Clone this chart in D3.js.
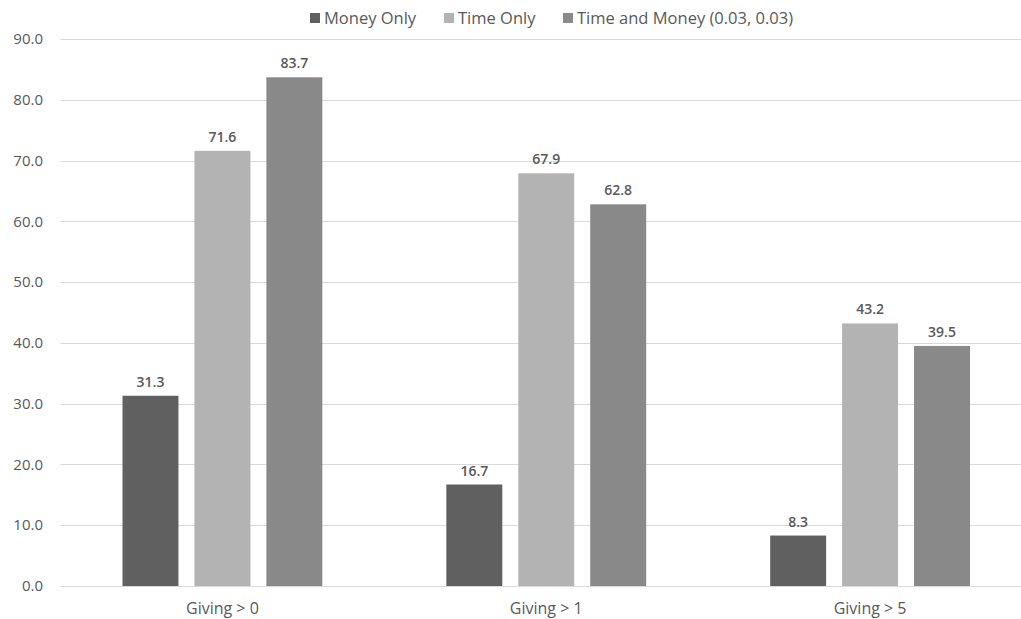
<!DOCTYPE html>
<html>
<head>
<script src="https://d3js.org/d3.v7.min.js"></script>
<style>
  html, body { margin: 0; padding: 0; background: #fff; }
  svg { display: block; font-family: "Open Sans", "Noto Sans", sans-serif; }
</style>
</head>
<body>
<div id="chart"></div>
<script>
// chart data
var categories = ["Giving > 0", "Giving > 1", "Giving > 5"];
var seriesNames = ["Money Only", "Time Only", "Time and Money (0.03, 0.03)"];
var moneyOnly = [31.3, 16.7, 8.3];
var timeOnly = [71.6, 67.9, 43.2];
var timeAndMoney = [83.7, 62.8, 39.5];
var yTicks = [0, 10, 20, 30, 40, 50, 60, 70, 80, 90];
var colors = ["#606060", "#b3b3b3", "#898989"];

var seriesValues = [moneyOnly, timeOnly, timeAndMoney];

var width = 1021, height = 619;
var plot = {left: 60.5, right: 1032, top: 39, bottom: 586};

var svg = d3.select("#chart").append("svg")
    .attr("width", width)
    .attr("height", height);

var y = d3.scaleLinear().domain([0, 90]).range([plot.bottom, plot.top]);

var x0 = d3.scaleBand().domain(categories).range([plot.left, plot.right]);
var x1 = d3.scaleBand().domain(seriesNames)
    .range([62, x0.bandwidth() - 62])
    .paddingInner(16 / 72).paddingOuter(0);

// gridlines
svg.append("g").selectAll("line")
    .data(yTicks)
    .enter().append("line")
    .attr("x1", plot.left)
    .attr("x2", plot.right)
    .attr("y1", function(d) { return Math.round(y(d)) + 0.5; })
    .attr("y2", function(d) { return Math.round(y(d)) + 0.5; })
    .attr("stroke", "#d9d9d9")
    .attr("stroke-width", 1);

// y tick labels
svg.append("g").selectAll("text")
    .data(yTicks)
    .enter().append("text")
    .attr("x", 43)
    .attr("y", function(d) { return y(d); })
    .attr("dy", "0.35em")
    .attr("text-anchor", "end")
    .attr("font-size", 15)
    .attr("fill", "#595959")
    .text(function(d) { return d3.format(".1f")(d); });

// bars
var groups = svg.append("g").selectAll("g")
    .data(categories)
    .enter().append("g")
    .attr("transform", function(d) { return "translate(" + x0(d) + ",0)"; });

groups.selectAll("rect")
    .data(function(c, i) {
        return seriesNames.map(function(s, j) { return {series: s, value: seriesValues[j][i], k: j}; });
    })
    .enter().append("rect")
    .attr("x", function(d) { return x1(d.series); })
    .attr("width", x1.bandwidth())
    .attr("y", function(d) { return y(d.value); })
    .attr("height", function(d) { return y(0) - y(d.value); })
    .attr("fill", function(d) { return colors[d.k]; });

groups.selectAll("text.val")
    .data(function(c, i) {
        return seriesNames.map(function(s, j) { return {series: s, value: seriesValues[j][i]}; });
    })
    .enter().append("text")
    .attr("class", "val")
    .attr("x", function(d) { return x1(d.series) + x1.bandwidth() / 2; })
    .attr("y", function(d) { return y(d.value) - 9; })
    .attr("text-anchor", "middle")
    .attr("font-size", 14)
    .attr("font-weight", 600)
    .attr("fill", "#595959")
    .text(function(d) { return d3.format(".1f")(d.value); });

// category labels
svg.append("g").selectAll("text")
    .data(categories)
    .enter().append("text")
    .attr("x", function(d) { return x0(d) + x0.bandwidth() / 2; })
    .attr("y", 614)
    .attr("text-anchor", "middle")
    .attr("font-size", 16)
    .attr("fill", "#595959")
    .text(function(d) { return d; });

// legend
var legendX = [310, 444, 563];
var legend = svg.append("g").selectAll("g")
    .data(seriesNames)
    .enter().append("g")
    .attr("transform", function(d, i) { return "translate(" + legendX[i] + ",13)"; });

legend.append("rect")
    .attr("width", 10).attr("height", 10)
    .attr("fill", function(d, i) { return colors[i]; });

legend.append("text")
    .attr("x", 14)
    .attr("y", 5)
    .attr("dy", "0.35em")
    .attr("font-size", 16.5)
    .attr("fill", "#595959")
    .text(function(d) { return d; });
</script>
</body>
</html>
